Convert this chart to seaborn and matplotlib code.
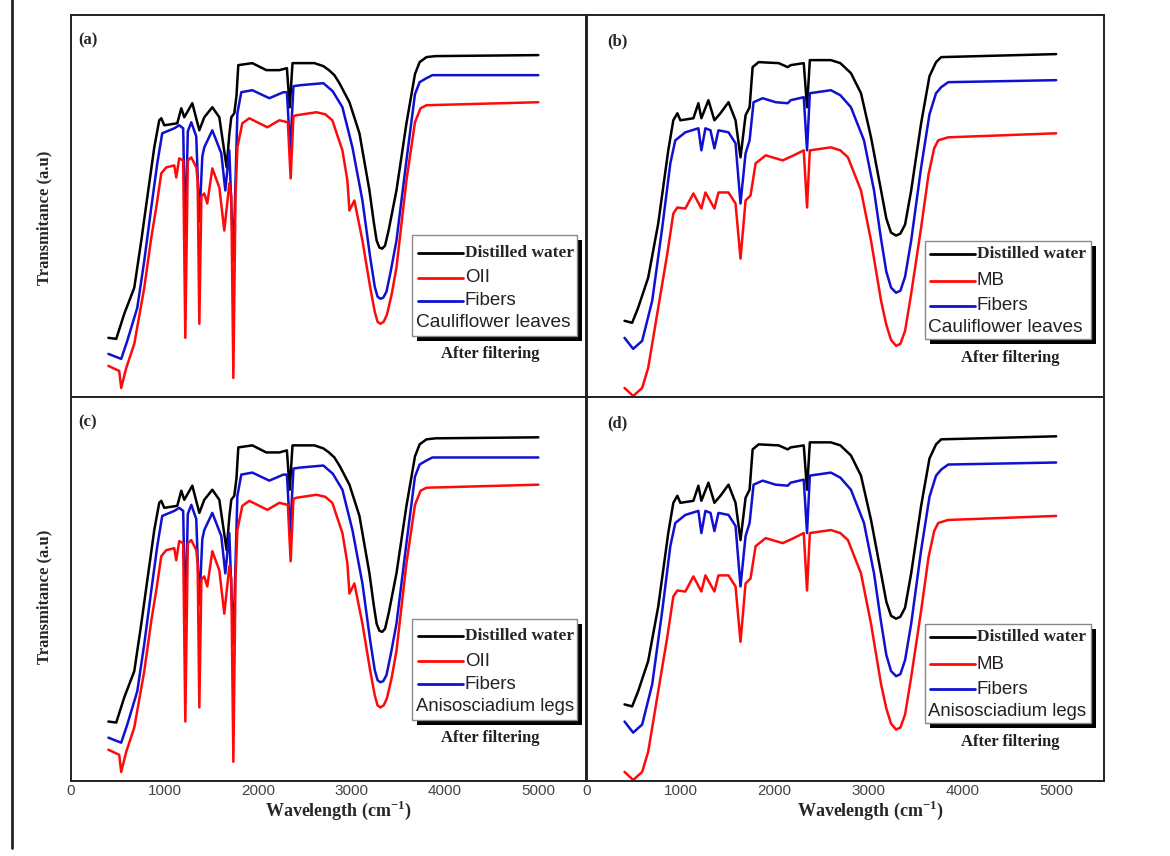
import matplotlib
matplotlib.use("Agg")
import matplotlib.pyplot as plt
import seaborn as sns
from matplotlib.patches import Rectangle
from matplotlib.lines import Line2D

# wavenumber (cm-1) / transmittance (a.u.)
# OII dye, panels (a) and (c)
oii_water_x = [400, 484, 570, 677, 752, 816, 891, 944, 966, 998, 1137, 1180, 1212, 1298, 1373, 1426, 1512, 1587,
               1640, 1665, 1694, 1715, 1747, 1770, 1790, 1940, 2090, 2229, 2310, 2340, 2370, 2604, 2700, 2760,
               2818, 2872, 2979, 3086, 3193, 3240, 3270, 3300, 3330, 3360, 3400, 3482, 3589, 3680, 3730, 3803,
               3900, 5000]
oii_water_t = [59, 58, 83, 109, 156, 199, 249, 276, 278, 271, 273, 288, 279, 293, 266, 279, 289, 279,
               245, 229, 262, 279, 283, 300, 331, 333, 326, 326, 328, 289, 333, 333, 330, 326,
               321, 313, 294, 263, 206, 174, 156, 149, 148, 151, 167, 206, 273, 322, 334, 339,
               340, 341]

oii_fiber_x = [400, 537, 602, 709, 784, 859, 923, 976, 1105, 1158, 1200, 1223, 1250, 1287, 1340, 1373, 1405, 1426,
               1512, 1608, 1651, 1694, 1737, 1780, 1822, 1940, 2122, 2272, 2310, 2345, 2380, 2454, 2700, 2800,
               2904, 3011, 3118, 3200, 3250, 3280, 3310, 3340, 3375, 3420, 3482, 3589, 3680, 3730, 3803, 3867,
               5000]
oii_fiber_t = [43, 38, 56, 89, 136, 189, 233, 263, 268, 271, 268, 160, 265, 274, 260, 175, 240, 249,
               266, 243, 206, 246, 136, 283, 304, 306, 298, 304, 304, 246, 310, 311, 313, 305,
               289, 249, 196, 140, 110, 100, 98, 99, 105, 125, 156, 236, 302, 314, 318, 321,
               321]

oii_dye_x = [400, 516, 537, 591, 677, 784, 859, 912, 966, 1019, 1105, 1126, 1158, 1200, 1223, 1250, 1287, 1341,
             1355, 1373, 1395, 1426, 1458, 1512, 1587, 1640, 1694, 1715, 1737, 1760, 1780, 1833, 1908, 2101,
             2229, 2320, 2350, 2380, 2411, 2625, 2720, 2796, 2904, 2957, 2979, 3032, 3118, 3200, 3250, 3280,
             3310, 3345, 3380, 3430, 3482, 3589, 3680, 3740, 3803, 5000]
oii_dye_t = [31, 26, 9, 29, 53, 109, 159, 189, 223, 229, 231, 219, 238, 236, 59, 236, 239, 229,
             215, 73, 200, 203, 193, 228, 209, 166, 213, 200, 19, 200, 249, 273, 278, 269,
             276, 274, 218, 280, 281, 284, 282, 276, 246, 216, 186, 196, 156, 110, 85, 75,
             73, 75, 82, 102, 129, 216, 274, 288, 291, 294]

# MB dye, panels (b) and (d)
mb_water_x = [400, 481, 545, 652, 759, 866, 920, 963, 995, 1134, 1187, 1219, 1294, 1358, 1422, 1508, 1583, 1636,
              1690, 1733, 1765, 1829, 2043, 2139, 2171, 2310, 2345, 2375, 2599, 2700, 2813, 2920, 3027, 3134,
              3190, 3240, 3294, 3340, 3390, 3455, 3561, 3650, 3720, 3775, 5000]
mb_water_t = [76, 74, 89, 119, 173, 246, 276, 283, 276, 278, 293, 278, 296, 276, 283, 294, 276, 239,
              281, 289, 329, 334, 333, 329, 331, 333, 289, 336, 336, 333, 323, 303, 259, 206,
              178, 164, 161, 163, 172, 206, 273, 320, 334, 339, 342]

mb_fiber_x = [400, 492, 588, 695, 802, 888, 941, 1048, 1187, 1219, 1262, 1316, 1358, 1401, 1508, 1583, 1636, 1690,
              1733, 1775, 1872, 2011, 2139, 2171, 2310, 2345, 2375, 2599, 2700, 2813, 2952, 3059, 3130, 3190,
              3241, 3294, 3340, 3390, 3455, 3561, 3650, 3720, 3775, 3850, 5000]
mb_fiber_t = [59, 48, 56, 96, 169, 233, 256, 264, 268, 246, 268, 266, 248, 266, 264, 253, 193, 243,
              256, 294, 298, 294, 293, 296, 299, 246, 303, 306, 301, 289, 256, 206, 160, 125,
              109, 104, 106, 120, 156, 229, 282, 303, 309, 314, 316]

mb_dye_x = [400, 492, 588, 652, 759, 856, 920, 963, 1048, 1134, 1219, 1262, 1358, 1401, 1508, 1583, 1636, 1690,
            1743, 1797, 1904, 2086, 2203, 2310, 2345, 2375, 2599, 2700, 2781, 2920, 3027, 3134, 3190, 3240,
            3294, 3340, 3390, 3455, 3561, 3640, 3700, 3743, 3850, 5000]
mb_dye_t = [9, 1, 9, 29, 89, 143, 183, 189, 188, 203, 188, 204, 188, 204, 204, 193, 138, 196,
            201, 233, 241, 236, 241, 246, 189, 246, 249, 246, 239, 206, 156, 96, 72, 57,
            51, 53, 66, 103, 169, 222, 248, 256, 259, 263]

panel_labels = ["(a)", "(b)", "(c)", "(d)"]
dye_names = ["OII", "MB", "OII", "MB"]
plant_names = ["Cauliflower leaves", "Cauliflower leaves", "Anisosciadium legs", "Anisosciadium legs"]
plant_sizes = [13.8, 13.8, 13.3, 13.3]
xticks = [0, 1000, 2000, 3000, 4000, 5000]

sns.set_style("white")
plt.rcParams["font.family"] = ["Liberation Sans", "DejaVu Sans"]
plt.rcParams["mathtext.fontset"] = "custom"
plt.rcParams["mathtext.rm"] = "Liberation Serif"
plt.rcParams["mathtext.bf"] = "Liberation Serif:bold"

W, H = 1170, 856
fig = plt.figure(figsize=(W / 100, H / 100), dpi=100)

# pixel boxes (left, top, right, bottom) of the four panels
boxes = [(71, 15, 586, 397), (587, 15, 1104, 397), (71, 397, 586, 781), (587, 397, 1104, 781)]
# legend geometry per column in axes fraction
leg_geo = [
    dict(box=(0.662, 0.160, 0.321, 0.263), line=(0.674, 0.761), tx=0.765, rows=(0.378, 0.312, 0.252, 0.194),
         ptx=0.670, after=(0.814, 0.113), lab=(0.014, 0.934)),
    dict(box=(0.654, 0.152, 0.321, 0.257), line=(0.663, 0.750), tx=0.754, rows=(0.375, 0.304, 0.239, 0.181),
         ptx=0.660, after=(0.818, 0.102), lab=(0.040, 0.930)),
]

series = [
    (oii_water_x, oii_water_t, oii_fiber_x, oii_fiber_t, oii_dye_x, oii_dye_t),
    (mb_water_x, mb_water_t, mb_fiber_x, mb_fiber_t, mb_dye_x, mb_dye_t),
]
BLUE = "#1010d0"
RED = "#ff0a0a"

for i, (l, t, r, b) in enumerate(boxes):
    ax = fig.add_axes([l / W, 1 - b / H, (r - l) / W, (b - t) / H])
    col = i % 2
    wx, wt, fx, ft, dx, dt = series[col]
    sns.lineplot(x=wx, y=wt, ax=ax, color="black", linewidth=1.8, estimator=None, sort=False)
    sns.lineplot(x=fx, y=ft, ax=ax, color=BLUE, linewidth=1.8, estimator=None, sort=False)
    sns.lineplot(x=dx, y=dt, ax=ax, color=RED, linewidth=1.8, estimator=None, sort=False)
    ax.set_xlim(0, 5510)
    ax.set_ylim(0, 381)
    ax.set_yticks([])
    if i >= 2:
        ax.set_xticks(xticks)
        ax.set_xticklabels([str(v) for v in xticks])
        ax.tick_params(axis="x", length=0, pad=2, labelsize=11, labelcolor="#444444")
    else:
        ax.set_xticks([])
    for s in ax.spines.values():
        s.set_color("#222222")
        s.set_linewidth(1.4)

    g = leg_geo[col]
    bx, by, bw, bh = g["box"]
    ax.add_patch(Rectangle((bx + 0.010, by - 0.013), bw, bh, transform=ax.transAxes,
                           facecolor="black", edgecolor="none", zorder=5))
    ax.add_patch(Rectangle((bx, by), bw, bh, transform=ax.transAxes,
                           facecolor="white", edgecolor="#888888", linewidth=1, zorder=6))
    for row, c in zip(g["rows"][:3], ["black", RED, BLUE]):
        ax.plot(g["line"], [row, row], transform=ax.transAxes, color=c, linewidth=2, zorder=7)
    ax.text(g["tx"], g["rows"][0], "Distilled water", transform=ax.transAxes, va="center", ha="left",
            family="Liberation Serif", fontweight="bold", fontsize=12.5, zorder=8)
    ax.text(g["tx"], g["rows"][1], dye_names[i], transform=ax.transAxes, va="center", ha="left",
            fontsize=13.5, color="#222222", zorder=8)
    ax.text(g["tx"], g["rows"][2], "Fibers", transform=ax.transAxes, va="center", ha="left",
            fontsize=13.5, color="#222222", zorder=8)
    ax.text(g["ptx"], g["rows"][3], plant_names[i], transform=ax.transAxes, va="center", ha="left",
            fontsize=plant_sizes[i], color="#222222", zorder=8)
    ax.text(*g["after"], "After filtering", transform=ax.transAxes, va="center", ha="center",
            family="Liberation Serif", fontweight="bold", fontsize=12, color="#222222")
    ax.text(*g["lab"], panel_labels[i], transform=ax.transAxes, va="center", ha="left",
            family="Liberation Serif", fontweight="bold", fontsize=12)

for yc in (218, 597):
    fig.text(44 / W, 1 - yc / H, "Transmitance (a.u)", rotation=90, ha="center", va="center",
             family="Liberation Serif", fontweight="bold", fontsize=12)
for xc in (338, 870):
    fig.text(xc / W, 1 - 810 / H, r"Wavelength (cm$^{\mathbf{-1}}$)", ha="center", va="center",
             family="Liberation Serif", fontweight="bold", fontsize=13)

# page border line at far left
fig.add_artist(Line2D([12 / W, 12 / W], [1, 1 - 848 / H], color="#222222", linewidth=2))

plt.savefig("out.png", dpi=100)
plt.close()
